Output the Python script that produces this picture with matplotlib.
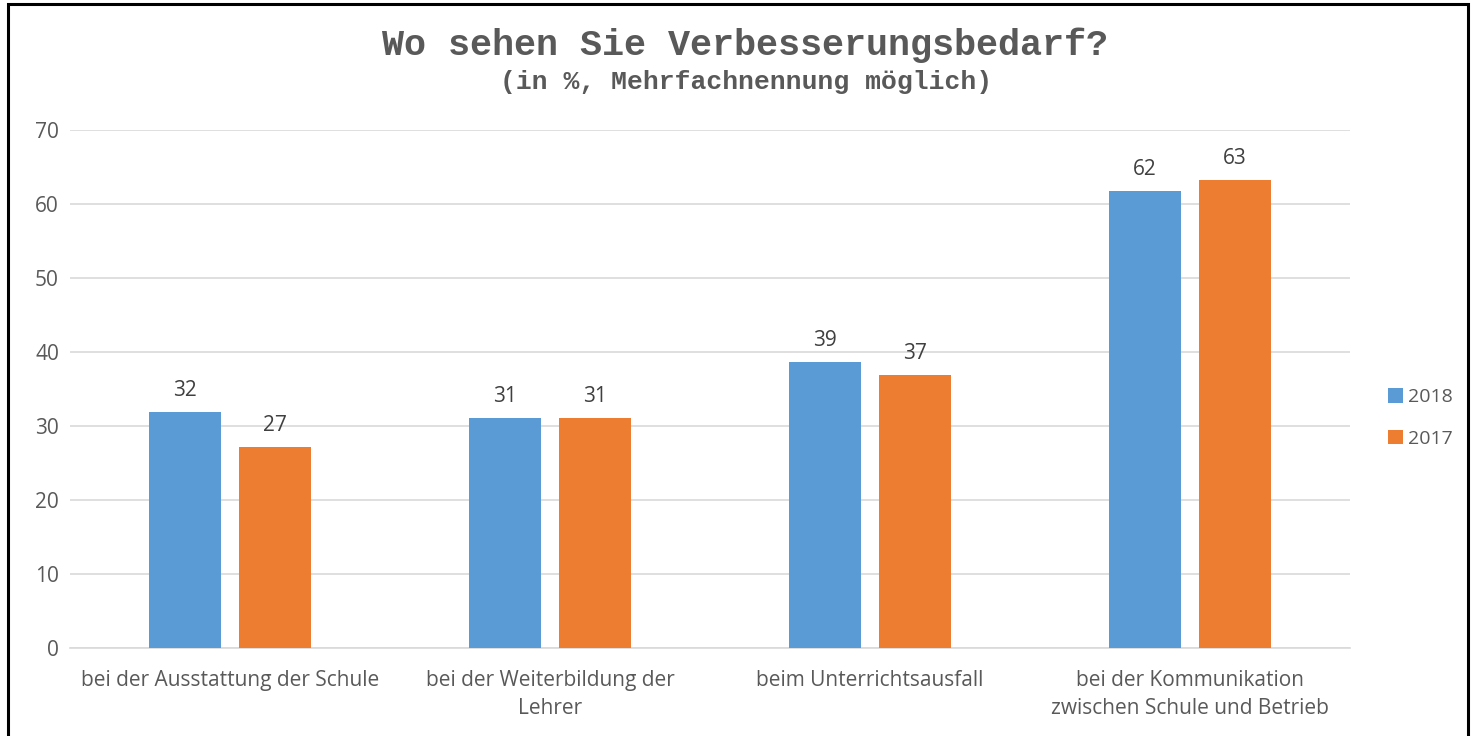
import matplotlib.pyplot as plt
from matplotlib.patches import Rectangle
import numpy as np

categories = [
    "bei der Ausstattung der Schule",
    "bei der Weiterbildung der\nLehrer",
    "beim Unterrichtsausfall",
    "bei der Kommunikation\nzwischen Schule und Betrieb",
]
series_names = ["2018", "2017"]
values_2018 = [31.9, 31.1, 38.6, 61.8]
values_2017 = [27.2, 31.1, 36.9, 63.2]
labels_2018 = ["32", "31", "39", "62"]
labels_2017 = ["27", "31", "37", "63"]
yticks = [0, 10, 20, 30, 40, 50, 60, 70]

blue = "#5b9bd5"
orange = "#ed7d31"
text_grey = "#595959"
body_font = ["Open Sans", "DejaVu Sans"]
fs = 15

fig = plt.figure(figsize=(14.72, 7.36), dpi=100)
ax = fig.add_axes([70 / 1472, 1 - 648 / 736, 1280 / 1472, 518 / 736])

x = np.arange(len(categories))
width = 0.225
gap = 0.056
off = (width + gap) / 2
b1 = ax.bar(x - off, values_2018, width, color=blue, label=series_names[0], zorder=3)
b2 = ax.bar(x + off, values_2017, width, color=orange, label=series_names[1], zorder=3)

for bars, labels in ((b1, labels_2018), (b2, labels_2017)):
    for bar, lab in zip(bars, labels):
        ax.annotate(lab, (bar.get_x() + bar.get_width() / 2, bar.get_height()),
                    xytext=(0, 8), textcoords="offset points", ha="center",
                    va="bottom", fontsize=fs, color="#404040", family=body_font)

ax.set_xlim(-0.5, len(categories) - 0.5)
ax.set_ylim(0, 70)
ax.set_yticks(yticks)
ax.set_yticklabels([str(t) for t in yticks], family=body_font, fontsize=fs, color=text_grey)
ax.set_xticks(x)
ax.set_xticklabels(categories, family=body_font, fontsize=fs, color=text_grey, linespacing=1.4)
ax.tick_params(length=0)
ax.tick_params(axis="y", pad=8)
ax.tick_params(axis="x", pad=16)
ax.grid(axis="y", color="#d9d9d9", linewidth=1.2, zorder=0)
for s in ["top", "right", "left"]:
    ax.spines[s].set_visible(False)
ax.spines["bottom"].set_color("#d9d9d9")
ax.spines["bottom"].set_linewidth(1.2)

leg = fig.legend(handles=[b1, b2], labels=series_names, loc="center left",
                 bbox_to_anchor=(1388 / 1472, 1 - 418 / 736), frameon=False,
                 borderaxespad=0, borderpad=0,
                 prop={"family": body_font, "size": 14}, handlelength=0.75,
                 handleheight=0.75, handletextpad=0.3, labelspacing=1.2)
for t in leg.get_texts():
    t.set_color(text_grey)

fig.text(745 / 1472, 1 - 45 / 736, "Wo sehen Sie Verbesserungsbedarf?", ha="center", va="center",
         family="Liberation Mono", weight="bold", fontsize=26.5, color=text_grey)
fig.text(746 / 1472, 1 - 82 / 736, "(in %, Mehrfachnennung möglich)", ha="center", va="center",
         family="Liberation Mono", weight="bold", fontsize=19, color=text_grey)

fig.patches.append(Rectangle((8 / 1472, -0.05), 1460 / 1472, 1.05 - 4 / 736,
                             transform=fig.transFigure, fill=False,
                             edgecolor="black", linewidth=2.2))

fig.savefig("out.png", dpi=100)
